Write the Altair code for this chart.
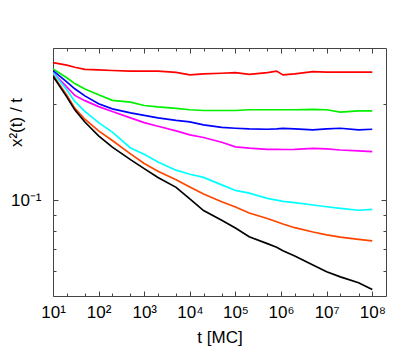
import altair as alt
import pandas as pd

# time grid (MC steps)
t_mc = [10, 20, 30, 50, 100, 200, 500, 1e3, 2e3, 5e3, 1e4, 2e4, 5e4, 1e5, 2e5,
        5e5, 8e5, 1.1e6, 2e6, 5e6, 1e7, 2e7, 5e7, 1e8]

y_red = [0.270, 0.265, 0.261, 0.257, 0.256, 0.255, 0.254, 0.254, 0.254, 0.2515, 0.247, 0.249,
         0.250, 0.251, 0.248, 0.251, 0.254, 0.247, 0.249, 0.253, 0.252, 0.252, 0.252, 0.252]
y_green = [0.258, 0.242, 0.232, 0.223, 0.214, 0.2055, 0.203, 0.198, 0.196, 0.194, 0.192, 0.191,
           0.191, 0.191, 0.192, 0.192, 0.192, 0.192, 0.192, 0.1926, 0.192, 0.1887, 0.1905, 0.1905]
y_blue = [0.2545, 0.235, 0.2234, 0.2123, 0.2004, 0.1932, 0.1877, 0.1844, 0.1811, 0.1778, 0.1759, 0.1721,
          0.169, 0.168, 0.1672, 0.1668, 0.1672, 0.1678, 0.1672, 0.166, 0.1672, 0.168, 0.166, 0.1668]
y_magenta = [0.2508, 0.2266, 0.213, 0.2051, 0.1964, 0.1896, 0.1811, 0.175, 0.1705, 0.1648, 0.1601, 0.1571,
             0.1518, 0.1468, 0.1455, 0.1443, 0.1443, 0.1441, 0.1443, 0.1452, 0.1447, 0.1436, 0.1426, 0.1419]
y_cyan = [0.2508, 0.2218, 0.204, 0.1897, 0.175, 0.1634, 0.1457, 0.1392, 0.1316, 0.1241, 0.1205, 0.1178,
          0.1116, 0.1072, 0.1051, 0.1012, 0.0999, 0.0991, 0.0981, 0.0965, 0.0953, 0.0942, 0.0929, 0.0935]
y_orange = [0.2464, 0.2138, 0.1943, 0.1793, 0.1648, 0.1537, 0.1396, 0.1302, 0.1232, 0.1158, 0.1099, 0.1044,
            0.0988, 0.0951, 0.0911, 0.0875, 0.0855, 0.0841, 0.0819, 0.0794, 0.0778, 0.0765, 0.0753, 0.0745]
y_black = [0.2446, 0.2108, 0.1919, 0.1757, 0.159, 0.1466, 0.1339, 0.1255, 0.1177, 0.1096, 0.1008, 0.0927,
           0.0864, 0.0817, 0.0767, 0.073, 0.0711, 0.0693, 0.0668, 0.0626, 0.0596, 0.0574, 0.055, 0.0524]

series_names = ["red", "green", "blue", "magenta", "cyan", "orange", "black"]
series_colors = ["#ff0000", "#00f000", "#0000ff", "#ff00ff", "#00ffff", "#ff4500", "#000000"]
series_widths = [1.7, 1.7, 1.7, 1.7, 1.7, 2.5, 1.8]
series_values = [y_red, y_green, y_blue, y_magenta, y_cyan, y_orange, y_black]

x_major = [10, 100, 1e3, 1e4, 1e5, 1e6, 1e7, 1e8]
x_tick_labels = ["10¹", "10²", "10³", "10⁴", "10⁵", "10⁶", "10⁷", "10⁸"]
x_minor = [20, 50, 200, 500, 2e3, 5e3, 2e4, 5e4, 2e5, 5e5, 2e6, 5e6, 2e7, 5e7]
y_major = [0.1]
y_tick_labels = ["10⁻¹"]
y_minor = [0.06, 0.07, 0.08, 0.09, 0.2]

rows = []
for name, vals in zip(series_names, series_values):
    for i, (t, v) in enumerate(zip(t_mc, vals)):
        rows.append({"t": t, "v": v, "s": name, "o": i})
df = pd.DataFrame(rows)

W, H = 333, 248
FONT = "Liberation Sans"
TICK_COLOR = "#444444"

xscale = alt.Scale(type="log", domain=[10, 2e8], nice=False)
yscale = alt.Scale(type="log", domain=[0.05, 0.3], nice=False)

x_label_expr = "[" + ",".join("'%s'" % s for s in x_tick_labels) + "][round(log(datum.value)/LN10) - 1]"
y_label_expr = "'%s'" % y_tick_labels[0]

lines = alt.Chart(df).mark_line(clip=True).encode(
    x=alt.X("t:Q", scale=xscale, axis=alt.Axis(
        values=x_major, labelExpr=x_label_expr, ticks=False, tickSize=0, domain=False, grid=False,
        labelFont=FONT, labelFontSize=17, labelColor="#000000", labelPadding=8, labelFlush=False,
        title="t [MC]", titleFont=FONT, titleFontSize=17, titleFontWeight="normal", titleColor="#000000",
        titleY=46, titleBaseline="alphabetic")),
    y=alt.Y("v:Q", scale=yscale, axis=alt.Axis(
        values=y_major, labelExpr=y_label_expr, ticks=False, tickSize=0, domain=False, grid=False,
        labelFont=FONT, labelFontSize=17, labelColor="#000000", labelPadding=12,
        title="x²(t) / t", titleFont=FONT, titleFontSize=17, titleFontWeight="normal", titleColor="#000000",
        titleX=-37, titleY=74, titleBaseline="middle", titleAlign="center")),
    color=alt.Color("s:N", scale=alt.Scale(domain=series_names, range=series_colors), legend=None),
    strokeWidth=alt.StrokeWidth("s:N", scale=alt.Scale(domain=series_names, range=series_widths), legend=None),
    order="o:Q",
)


def tick_layer(xvals, yvals, size, x_orient, y_orient):
    return alt.Chart(df).mark_line(opacity=0).encode(
        x=alt.X("t:Q", scale=xscale, axis=alt.Axis(
            orient=x_orient, offset=-H, values=xvals, labels=False, domain=False, grid=False,
            ticks=True, tickSize=size, tickColor=TICK_COLOR, tickWidth=1, title=None)),
        y=alt.Y("v:Q", scale=yscale, axis=alt.Axis(
            orient=y_orient, offset=-W, values=yvals, labels=False, domain=False, grid=False,
            ticks=True, tickSize=size, tickColor=TICK_COLOR, tickWidth=1, title=None)),
        detail="s:N",
    )


chart = alt.layer(
    lines,
    tick_layer(x_major, y_major, 5, "top", "right"),
    tick_layer(x_major, y_major, 5, "bottom", "left"),
    tick_layer(x_minor, y_minor, 3, "top", "right"),
    tick_layer(x_minor, y_minor, 3, "bottom", "left"),
).resolve_axis(x="independent", y="independent").properties(
    width=W, height=H,
    autosize=alt.AutoSizeParams(type="none"),
    padding={"left": 45, "top": 40, "right": 15, "bottom": 50},
).configure_view(stroke="#444444", strokeWidth=1)

chart.save("out.html", embed_options={"renderer": "svg", "actions": False})
